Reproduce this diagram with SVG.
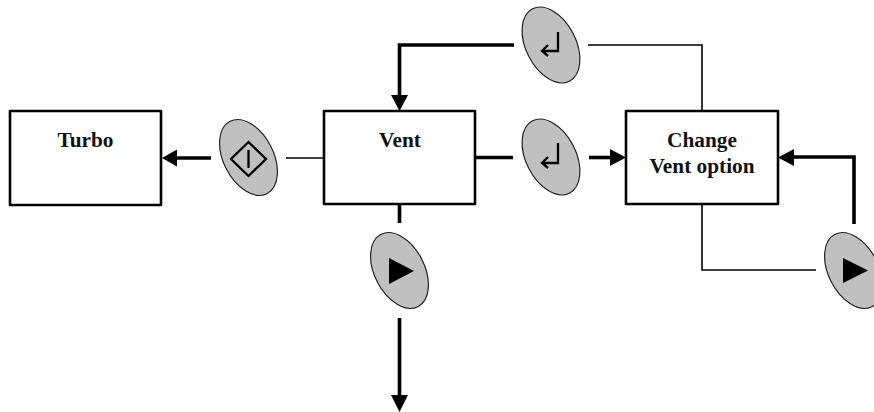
<svg xmlns="http://www.w3.org/2000/svg" width="874" height="412" viewBox="0 0 874 412">
<defs>
<style>
.box{fill:#fff;stroke:#000;stroke-width:2.6;stroke-linejoin:round}
.t{font-family:"Liberation Serif","Times New Roman",serif;font-weight:bold;font-size:21.3px;text-anchor:middle;fill:#111}
.thick{fill:none;stroke:#000;stroke-width:3.6}
.thin{fill:none;stroke:#000;stroke-width:1.6}
.key{fill:#c0c0c0;stroke:#222;stroke-width:1.2}
.ic{fill:none;stroke:#000;stroke-width:2.3}
</style>
<ellipse id="k" class="key" cx="0" cy="0" rx="25" ry="40.6" transform="rotate(-27)"/>
</defs>
<rect width="874" height="412" fill="#fff"/>
<g id="connectors">
<path class="thick" d="M514 45H399.500V97"/><polygon points="391,95 408,95 399.500,111"/>
<path class="thin" d="M588 45H702V111"/>
<path class="thick" d="M211 158H176"/><polygon points="177,149.500 177,166.500 162,158"/>
<path class="thin" d="M286 158H324"/>
<path class="thick" d="M474 157.500H513"/>
<path class="thick" d="M589 157.500H612"/><polygon points="610,149 610,166 626,157.500"/>
<path class="thick" d="M854 224V157H792"/><polygon points="794,149 794,166 778,157.500"/>
<path class="thin" d="M702 205V270H816"/>
<path class="thick" d="M399.500 205V223"/>
<path class="thick" d="M399.500 318V397"/><polygon points="391,395 408,395 399.500,412"/>
</g>
<g id="turbo"><rect class="box" x="10" y="111" width="151" height="94"/><text class="t" x="85.500" y="147">Turbo</text></g>
<g id="vent"><rect class="box" x="324" y="111" width="151" height="93"/><text class="t" x="400" y="147">Vent</text></g>
<g id="change"><rect class="box" x="626" y="111" width="152" height="93"/><text class="t" x="702" y="147">Change</text><text class="t" x="702" y="172.500">Vent option</text></g>
<g id="key-start"><use href="#k" x="248.500" y="157.500"/><g class="ic"><path d="M248.500 142L266 159L248.500 176L231 159Z"/><path d="M248.500 150V168"/></g></g>
<g id="key-enter-top"><use href="#k" x="551" y="45"/><path class="ic" d="M558 32V51H542M548 45L542 51L548 56"/></g>
<g id="key-enter-mid"><use href="#k" x="551" y="157"/><path class="ic" d="M558 143V163H542M548 157L542 163L548 168"/></g>
<g id="key-play-down"><use href="#k" x="399.500" y="270.500"/><polygon points="389,258 389,284 414,271"/></g>
<g id="key-play-right"><use href="#k" x="853.500" y="270.500"/><polygon points="843,258 843,283 868,270.500"/></g>
</svg>
